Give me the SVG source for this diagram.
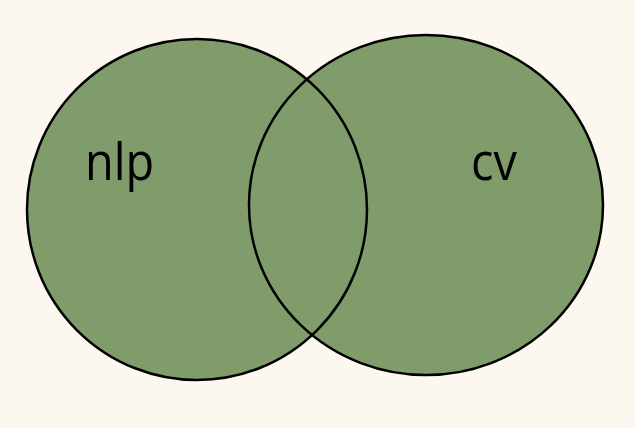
<svg xmlns="http://www.w3.org/2000/svg" width="635" height="428" viewBox="0 0 635 428">
<style>
.fill{fill:#7f9c6a;stroke:none}
.edge{fill:none;stroke:#000;stroke-width:2.5}
.lbl{font-family:"Open Sans","Noto Sans",sans-serif;font-size:52px;fill:#000}
</style>
<rect width="635" height="428" fill="#fdf8ef"/>
<g id="fills">
<ellipse class="fill" cx="197" cy="209.5" rx="170" ry="170.5"/>
<ellipse class="fill" cx="426" cy="205" rx="177" ry="170"/>
</g>
<g id="nlp">
<ellipse class="edge" cx="197" cy="209.5" rx="170" ry="170.5" stroke-width="2.9"/>
<text class="lbl" x="85" y="180" transform="translate(85 0) scale(0.9 1) translate(-85 0)">nlp</text>
</g>
<g id="cv">
<ellipse class="edge" cx="426" cy="205" rx="177" ry="170"/>
<text class="lbl" x="471" y="180" transform="translate(471 0) scale(0.9 1) translate(-471 0)">cv</text>
</g>
</svg>
